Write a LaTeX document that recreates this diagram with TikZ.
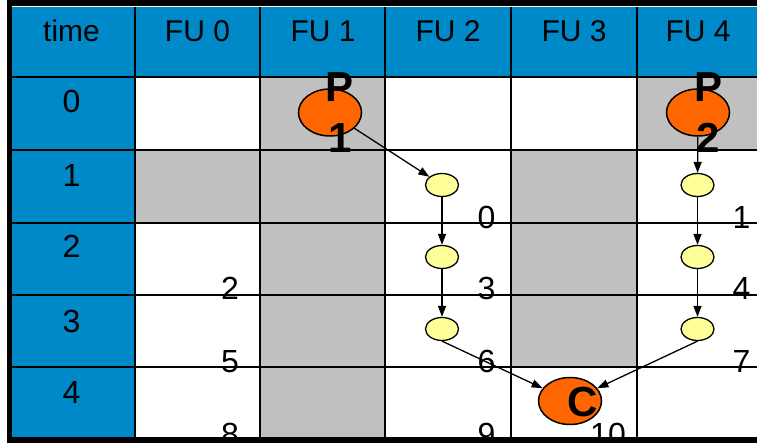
\documentclass[tikz,border=0pt]{standalone}
\usepackage{fontspec}
\setmainfont{Liberation Sans}
\usetikzlibrary{shapes.geometric,arrows.meta}
\definecolor{hdrblue}{HTML}{0089C8}
\definecolor{cellgrey}{HTML}{C0C0C0}
\definecolor{oporange}{HTML}{FF6600}
\definecolor{opyellow}{HTML}{FFFF99}
\begin{document}
\begin{tikzpicture}[x=1pt,y=-1pt,
  bigop/.style={ellipse,draw=black,line width=1.5pt,fill=oporange,minimum width=63pt,minimum height=47pt,inner sep=0pt},
  smallop/.style={ellipse,draw=black,line width=1.3pt,fill=opyellow,minimum width=33pt,minimum height=23pt,inner sep=0pt},
  edge/.style={line width=1.3pt,-{Triangle[length=11pt,width=8pt]}},
  gridline/.style={line width=2.2pt,black},
  hdr/.style={font=\fontsize{30}{36}\selectfont,anchor=base,inner sep=0pt},
  rownum/.style={font=\fontsize{32}{38}\selectfont,anchor=base,inner sep=0pt},
  num/.style={font=\fontsize{32}{38}\selectfont,anchor=base,inner sep=0pt},
  oplabel/.style={font=\fontsize{42}{51}\selectfont\bfseries,align=center,inner sep=0pt}]
\useasboundingbox (0,0) rectangle (757,443);
\clip (0,0) rectangle (757,443);
\fill[white] (0,0) rectangle (757,443);
% blue header and time column
\fill[hdrblue] (12,7) rectangle (757,77);
\fill[hdrblue] (12,77) rectangle (135,437);
% grey cells
\fill[cellgrey] (260,77) rectangle (385,150);
\fill[cellgrey] (637,77) rectangle (757,150);
\fill[cellgrey] (135,150) rectangle (385,223);
\fill[cellgrey] (511,150) rectangle (637,223);
\fill[cellgrey] (260,223) rectangle (385,437);
\fill[cellgrey] (511,223) rectangle (637,367);
% grid
\foreach \gx in {135,260,385,511,637} \draw[gridline] (\gx,7) -- (\gx,437);
\foreach \gy in {77,150,223,295,367} \draw[gridline] (12,\gy) -- (757,\gy);
% outer frame
\draw[line width=5.5pt] (9.5,3) rectangle (800,440);
% header texts
\node[hdr] (thead) at (71.5,42) {time};
\node[hdr] (fu0) at (197.5,42) {FU 0};
\node[hdr] (fu1) at (323,42) {FU 1};
\node[hdr] (fu2) at (448,42) {FU 2};
\node[hdr] (fu3) at (574,42) {FU 3};
\node[hdr] (fu4) at (698,42) {FU 4};
% row numbers
\node[rownum] (r0) at (71.5,113) {0};
\node[rownum] (r1) at (71.5,187) {1};
\node[rownum] (r2) at (71.5,258) {2};
\node[rownum] (r3) at (71.5,332) {3};
\node[rownum] (r4) at (71.5,403) {4};
% operation nodes
\node[bigop] (p1) at (330,112.5) {};
\node[bigop] (p2) at (698,112.5) {};
\node[bigop] (c) at (570,401) {};
\node[smallop] (e0) at (442,185) {};
\node[smallop] (e3) at (442,257) {};
\node[smallop] (e6) at (442,329) {};
\node[smallop] (e1) at (697.5,185) {};
\node[smallop] (e4) at (697.5,257) {};
\node[smallop] (e7) at (697.5,329) {};
% edges
\draw[edge] (p1) -- (e0);
\draw[edge] (p2) -- (e1);
\draw[edge] (e0) -- (e3);
\draw[edge] (e3) -- (e6);
\draw[edge] (e1) -- (e4);
\draw[edge] (e4) -- (e7);
\draw[edge] (e6.south) -- (c);
\draw[edge] (e7.south) -- (c);
% cell numbers
\node[num] (n0) at (486.5,229) {0};
\node[num] (n1) at (741.5,229) {1};
\node[num] (n2) at (230,300) {2};
\node[num] (n3) at (486.5,300) {3};
\node[num] (n4) at (741.5,300) {4};
\node[num] (n5) at (230,372) {5};
\node[num] (n6) at (486.5,372) {6};
\node[num] (n7) at (741.5,372) {7};
\node[num] (n8) at (230,445) {8};
\node[num] (n9) at (486.5,445) {9};
\node[num] (n10) at (608,445) {10};
% operation labels
\node[oplabel] (lp1) at (340,112.5) {P\\1};
\node[oplabel] (lp2) at (708,112.5) {P\\2};
\node[oplabel] (lc) at (582.5,402) {C};
\end{tikzpicture}
\end{document}
